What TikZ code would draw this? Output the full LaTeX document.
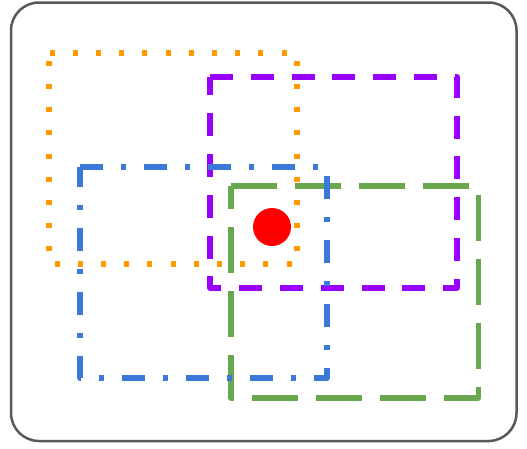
\documentclass[tikz,border=0pt]{standalone}
\usepackage{tikz}
\definecolor{frameC}{HTML}{595959}
\definecolor{orangeC}{HTML}{FF9900}
\definecolor{purpleC}{HTML}{9900FF}
\definecolor{blueC}{HTML}{3C78D8}
\definecolor{greenC}{HTML}{6AA84F}
\definecolor{redC}{HTML}{FF0000}
\tikzset{
  boxline/.style={line width=5.5pt, line join=round, line cap=butt},
  orangebox/.style={boxline, draw=orangeC, dash pattern=on 5pt off 18.2pt, dash phase=22.7pt},
  purplebox/.style={boxline, draw=purpleC, dash pattern=on 23pt off 17.8pt},
  bluebox/.style={boxline, draw=blueC, dash pattern=on 23pt off 18pt on 5pt off 18pt},
  greenbox/.style={boxline, draw=greenC, dash pattern=on 46pt off 18pt},
  framebox/.style={draw=frameC, line width=2.5pt, rounded corners=28pt},
}
\begin{document}
\begin{tikzpicture}[x=1pt,y=-1pt]
\useasboundingbox (0,0) rectangle (527,448);
\draw[framebox] (11,2.5) rectangle (516.5,441);
% orange dotted
\draw[orangebox] (49,53) -- (297,53) -- (297,264) -- (49,264) -- cycle;
% purple dashed
\draw[purplebox] (210,77) -- (457,77) -- (457,288) -- (210,288) -- cycle;
% green long dashed
\draw[greenbox] (231,186) -- (478.5,186) -- (478.5,398) -- (231,398) -- cycle;
% blue dash-dot
\draw[bluebox] (80,167) -- (327,167) -- (327,378) -- (80,378) -- cycle;
% red dot
\node[circle, fill=redC, minimum size=38pt, inner sep=0pt] (dot) at (272,227) {};
\end{tikzpicture}
\end{document}
